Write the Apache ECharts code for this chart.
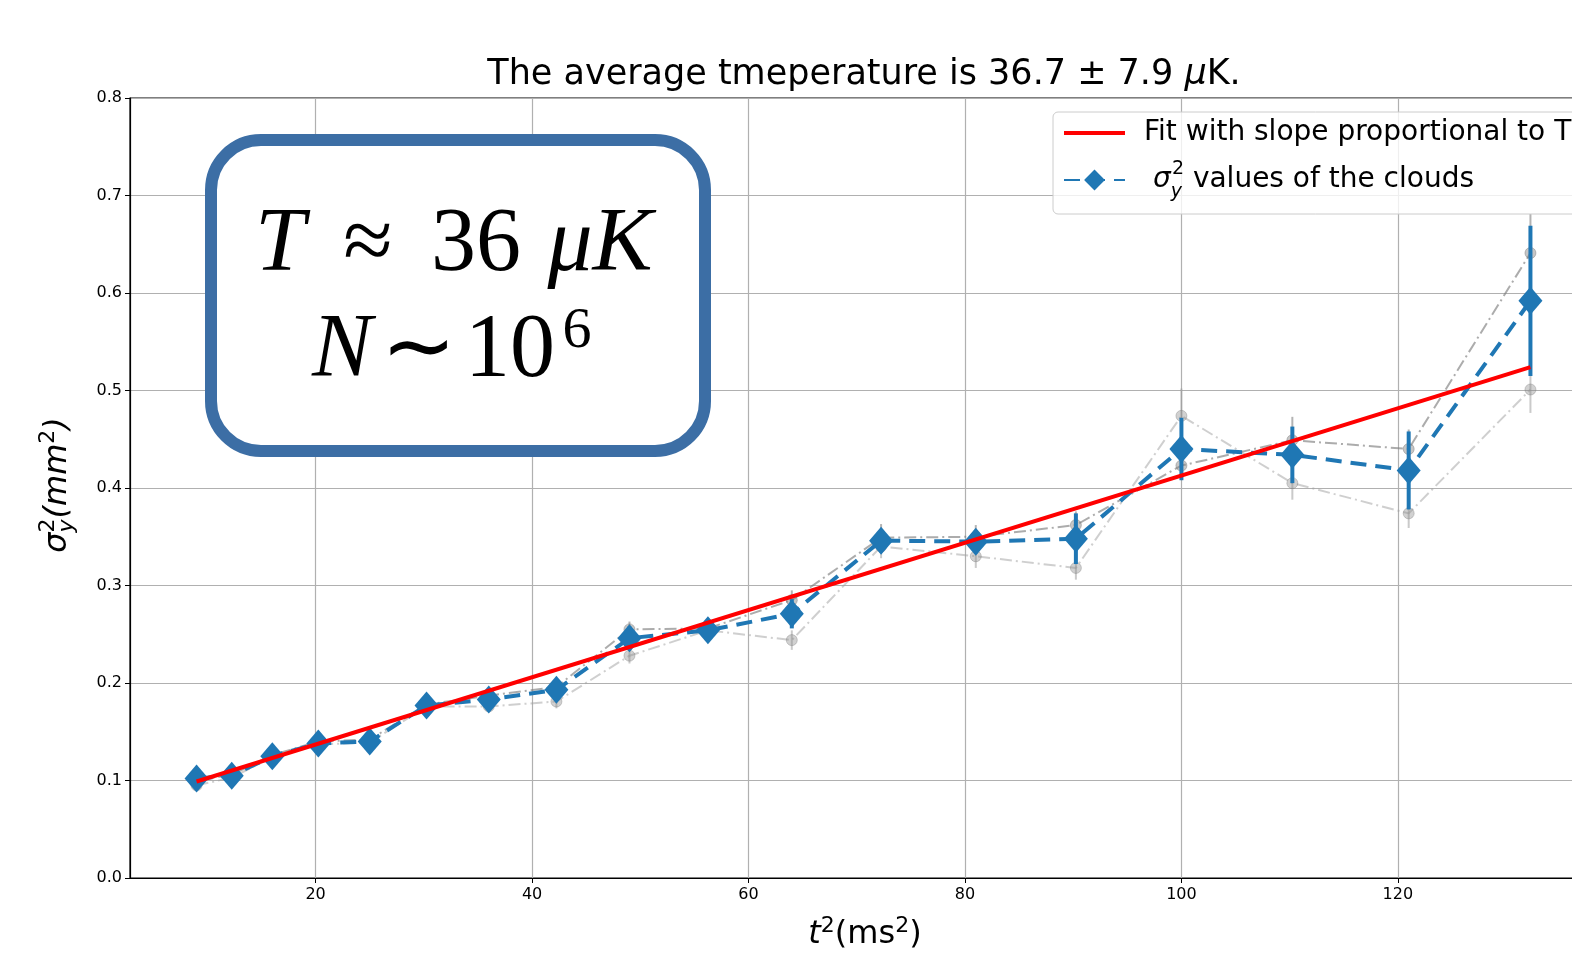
<!DOCTYPE html>
<html lang="en">
<head>
<meta charset="UTF-8">
<title>sigma_y^2 vs t^2</title>
<script src="https://cdn.jsdelivr.net/npm/echarts@6/dist/echarts.min.js"></script>
<style>html,body{margin:0;padding:0;background:#fff;}</style>
</head>
<body>
<div id="main" style="width:1572px;height:955px;"></div>
<script type="text/javascript">
// t^2 in ms^2 (t = 3 .. 11.5 ms)
var t2 = [9, 12.25, 16, 20.25, 25, 30.25, 36, 42.25, 49, 56.25, 64, 72.25, 81, 90.25, 100, 110.25, 121, 132.25];
// mean sigma_y^2 (mm^2) and its error
var sigmaY   = [0.102, 0.105, 0.125, 0.138, 0.140, 0.177, 0.183, 0.193, 0.246, 0.254, 0.271, 0.346, 0.345, 0.348, 0.440, 0.434, 0.418, 0.592];
var sigmaErr = [0.004, 0.004, 0.005, 0.005, 0.005, 0.006, 0.006, 0.007, 0.012, 0.008, 0.015, 0.012, 0.012, 0.026, 0.032, 0.029, 0.040, 0.077];
// the two single runs (grey)
var run1    = [0.100, 0.106, 0.126, 0.140, 0.142, 0.178, 0.187, 0.196, 0.255, 0.256, 0.285, 0.349, 0.350, 0.362, 0.423, 0.449, 0.440, 0.641];
var run1Err = [0.004, 0.004, 0.005, 0.005, 0.005, 0.006, 0.006, 0.007, 0.008, 0.008, 0.010, 0.014, 0.012, 0.014, 0.015, 0.024, 0.020, 0.040];
var run2    = [0.095, 0.103, 0.124, 0.137, 0.139, 0.176, 0.176, 0.181, 0.228, 0.254, 0.244, 0.340, 0.330, 0.318, 0.474, 0.405, 0.374, 0.501];
var run2Err = [0.004, 0.004, 0.005, 0.005, 0.005, 0.006, 0.006, 0.007, 0.008, 0.008, 0.010, 0.012, 0.012, 0.012, 0.028, 0.017, 0.015, 0.024];
// linear fit end points
var fitX = [9, 132.25];
var fitY = [0.099, 0.524];
// tick labels
var xTicks = [20, 40, 60, 80, 100, 120];

function pts(xs, ys) {
    return xs.map(function (x, i) { return [x, ys[i]]; });
}
function bars(xs, ys, es) {
    return xs.map(function (x, i) { return [x, ys[i] - es[i], ys[i] + es[i]]; });
}
function errBar(color, width) {
    return function (params, api) {
        var p1 = api.coord([api.value(0), api.value(1)]);
        var p2 = api.coord([api.value(0), api.value(2)]);
        return {
            type: 'line',
            shape: { x1: p1[0], y1: p1[1], x2: p2[0], y2: p2[1] },
            style: { stroke: color, lineWidth: width }
        };
    };
}

var FONT = 'DejaVu Sans';
var SERIF = 'Liberation Serif';

// little mathtext helper: pieces [text, size, italic, rise, stacked]
var mctx = document.createElement('canvas').getContext('2d');
function tw(str, size, italic, family) {
    mctx.font = (italic ? 'italic ' : '') + size + 'px "' + family + '"';
    return mctx.measureText(str).width;
}
function mathText(pieces, family, x, y, rotation) {
    var pos = 0, kids = [], last = 0;
    pieces.forEach(function (p) {
        var w = tw(p[0], p[1], p[2], family);
        if (p[4]) { pos -= last; }
        kids.push({
            type: 'text', x: pos, y: -p[3] - 0.297 * p[1],
            style: {
                text: p[0], fill: '#000', align: 'left', verticalAlign: 'middle',
                fontFamily: family, fontSize: p[1], fontStyle: p[2] ? 'italic' : 'normal'
            }
        });
        if (p[4]) { pos += Math.max(w, last); } else { pos += w; }
        last = w;
    });
    kids.forEach(function (k) { k.x -= pos / 2; });
    return { type: 'group', x: x, y: y, rotation: rotation || 0, z: 100, children: kids };
}

var myChart = echarts.init(document.getElementById('main'));

var option = {
    animation: false,
    backgroundColor: '#fff',
    textStyle: { fontFamily: FONT },
    grid: {
        left: 130, top: 98, width: 1467, height: 780,
        outerBoundsMode: 'none', containLabel: false,
        show: true, borderColor: '#000', borderWidth: 1.2, backgroundColor: 'transparent'
    },
    legend: {
        orient: 'vertical',
        left: 1053, top: 112,
        data: [
            { name: 'fit', icon: 'path://M0,0 L60,0 L60,4 L0,4 Z' },
            { name: 'sigma' }
        ],
        itemWidth: 61, itemHeight: 26, itemGap: 13,
        padding: [7, 12, 12, 10],
        backgroundColor: 'rgba(255,255,255,0.8)',
        borderColor: '#cccccc', borderWidth: 1, borderRadius: 5,
        formatter: function (name) {
            if (name === 'fit') return '{t|Fit with slope proportional to T}';
            return '{t| }{it|σ}{sub|y}{sup|2}{t| values of the clouds}';
        },
        textStyle: {
            padding: [0, 0, 0, 14],
            rich: {
                t: { fontFamily: FONT, fontSize: 28, color: '#000' },
                it: { fontFamily: FONT, fontStyle: 'italic', fontSize: 28, color: '#000' },
                sub: { fontFamily: FONT, fontStyle: 'italic', fontSize: 19, color: '#000', verticalAlign: 'bottom', padding: [0, 0, -8, 0] },
                sup: { fontFamily: FONT, fontSize: 19, color: '#000', verticalAlign: 'top', padding: [-6, 0, 0, -10] }
            }
        }
    },
    xAxis: {
        type: 'value',
        min: 2.85, max: 138.4,
        axisLine: { show: true, onZero: false, lineStyle: { color: '#000', width: 1.2 } },
        axisTick: { show: true, length: 5, customValues: xTicks, lineStyle: { color: '#000' } },
        axisLabel: { customValues: xTicks, fontSize: 16, color: '#000', margin: 9, fontFamily: FONT },
        splitLine: { show: true, lineStyle: { color: '#b0b0b0', width: 1.2 } }
    },
    yAxis: {
        type: 'value',
        min: 0, max: 0.8, interval: 0.1,
        axisLine: { show: true, lineStyle: { color: '#000', width: 1.2 } },
        axisTick: { show: true, length: 5, lineStyle: { color: '#000' } },
        axisLabel: {
            fontSize: 16, color: '#000', margin: 8, fontFamily: FONT,
            formatter: function (v) { return v.toFixed(1); }
        },
        splitLine: { show: true, lineStyle: { color: '#b0b0b0', width: 1.2 } }
    },
    graphic: [
        {
            type: 'text', x: 864, y: 75, z: 100,
            style: {
                text: '{t|The average tmeperature is 36.7 ± 7.9 }{it|μ}{t|K.}',
                align: 'center', verticalAlign: 'middle',
                rich: {
                    t: { fontFamily: FONT, fontSize: 35, fill: '#000' },
                    it: { fontFamily: FONT, fontStyle: 'italic', fontSize: 35, fill: '#000' }
                }
            }
        },
        // x axis name  t^2(ms^2)
        mathText([['t', 32, true, 0], ['2', 22, false, 11], ['(ms', 32, false, 0], ['2', 22, false, 11], [')', 32, false, 0]],
            FONT, 865, 944, 0),
        // y axis name  sigma_y^2(mm^2)
        mathText([['σ', 32, true, 0], ['y', 22, true, -7], ['2', 22, false, 12, true], ['(mm', 32, true, 0], ['2', 22, false, 12], [')', 32, true, 0]],
            FONT, 67, 485, Math.PI / 2),
        {
            type: 'rect', z: 100,
            shape: { x: 211, y: 140, width: 494, height: 311, r: 50 },
            style: { fill: '#fff', stroke: '#3c6ea5', lineWidth: 12 }
        },
        { type: 'text', x: 280, y: 246, z: 101, style: { text: 'T', fontFamily: SERIF, fontStyle: 'italic', fontSize: 90, fill: '#000', align: 'center', verticalAlign: 'middle' } },
        { type: 'text', x: 368, y: 246, z: 101, style: { text: '≈', fontFamily: SERIF, fontSize: 90, fill: '#000', align: 'center', verticalAlign: 'middle' } },
        { type: 'text', x: 476, y: 246, z: 101, style: { text: '36', fontFamily: SERIF, fontSize: 90, fill: '#000', align: 'center', verticalAlign: 'middle' } },
        { type: 'text', x: 600, y: 246, z: 101, style: { text: 'μK', fontFamily: SERIF, fontStyle: 'italic', fontSize: 90, fill: '#000', align: 'center', verticalAlign: 'middle' } },
        { type: 'text', x: 342, y: 352, z: 101, style: { text: 'N', fontFamily: SERIF, fontStyle: 'italic', fontSize: 90, fill: '#000', align: 'center', verticalAlign: 'middle' } },
        { type: 'text', x: 418, y: 352, z: 101, style: { text: '∼', fontFamily: SERIF, fontSize: 90, fill: '#000', align: 'center', verticalAlign: 'middle' } },
        { type: 'text', x: 510, y: 352, z: 101, style: { text: '10', fontFamily: SERIF, fontSize: 90, fill: '#000', align: 'center', verticalAlign: 'middle' } },
        { type: 'text', x: 577, y: 332, z: 101, style: { text: '6', fontFamily: SERIF, fontSize: 58, fill: '#000', align: 'center', verticalAlign: 'middle' } }
    ],
    series: [
        {
            name: 'run1', type: 'line', z: 2,
            data: pts(t2, run1),
            symbol: 'circle', symbolSize: 11,
            itemStyle: { color: 'rgba(128,128,128,0.45)', borderColor: 'rgba(110,110,110,0.4)', borderWidth: 1 },
            lineStyle: { color: 'rgba(128,128,128,0.65)', width: 2, type: [12, 4, 2, 4] }
        },
        {
            name: 'run2', type: 'line', z: 2,
            data: pts(t2, run2),
            symbol: 'circle', symbolSize: 11,
            itemStyle: { color: 'rgba(140,140,140,0.4)', borderColor: 'rgba(120,120,120,0.35)', borderWidth: 1 },
            lineStyle: { color: 'rgba(160,160,160,0.5)', width: 2, type: [12, 4, 2, 4] }
        },
        {
            name: 'run1Err', type: 'custom', z: 2,
            renderItem: errBar('rgba(128,128,128,0.6)', 2),
            encode: { x: 0, y: [1, 2] },
            data: bars(t2, run1, run1Err)
        },
        {
            name: 'run2Err', type: 'custom', z: 2,
            renderItem: errBar('rgba(150,150,150,0.5)', 2),
            encode: { x: 0, y: [1, 2] },
            data: bars(t2, run2, run2Err)
        },
        {
            name: 'sigmaErr', type: 'custom', z: 3,
            renderItem: errBar('#1f77b4', 4),
            encode: { x: 0, y: [1, 2] },
            data: bars(t2, sigmaY, sigmaErr)
        },
        {
            name: 'sigma', type: 'line', z: 4,
            data: pts(t2, sigmaY),
            symbol: 'diamond', symbolSize: [24, 28],
            itemStyle: { color: '#1f77b4' },
            lineStyle: { color: '#1f77b4', width: 4, type: [16, 9] }
        },
        {
            name: 'fit', type: 'line', z: 5,
            data: pts(fitX, fitY),
            symbol: 'none',
            itemStyle: { color: '#ff0000' },
            lineStyle: { color: '#ff0000', width: 4 }
        }
    ]
};

myChart.setOption(option);
</script>
</body>
</html>
